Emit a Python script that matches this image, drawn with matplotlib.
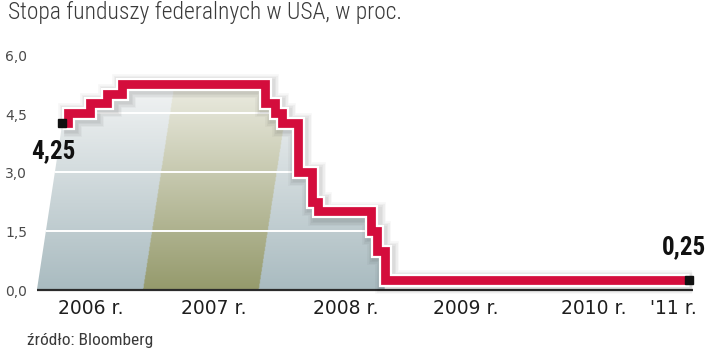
import numpy as np
import matplotlib
matplotlib.use("Agg")
import matplotlib.pyplot as plt
import matplotlib.patheffects as pe
from matplotlib.patches import Polygon
from matplotlib.colors import to_rgba

# Fed funds target rate, step changes (decimal year, percent)
rate_dates = [2006.04, 2006.09, 2006.29, 2006.45, 2006.58, 2007.88, 2007.97,
              2008.04, 2008.18, 2008.31, 2008.36, 2008.85, 2008.90, 2008.97, 2011.74]
rates = [4.25, 4.50, 4.75, 5.00, 5.25, 4.75, 4.50,
         4.25, 3.00, 2.25, 2.00, 1.50, 1.00, 0.25, 0.25]

yticks = [0.0, 1.5, 3.0, 4.5, 6.0]
ytick_labels = ["0,0", "1,5", "3,0", "4,5", "6,0"]
gridlines = [1.5, 3.0, 4.5]

year_labels = ["2006 r.", "2007 r.", "2008 r.", "2009 r.", "2010 r.", "'11 r."]
year_label_pos = [2006.30, 2007.42, 2008.62, 2009.71, 2010.87, 2011.59]

# highlighted year band at the baseline
band = (2006.77, 2007.82)

title = "Stopa funduszy federalnych w USA, w proc."
source = "źródło: Bloomberg"

RED = "#d40d3c"
SKEW = 0.0545  # horizontal lean of the backdrop per percentage point
NARROW = ["Roboto Condensed", "Roboto", "DejaVu Sans"]
PLAIN = ["DejaVu Sans"]

fig = plt.figure(figsize=(7.2, 3.49), dpi=100)
ax = fig.add_axes([0, 0, 1, 1])
ax.set_xlim(2005.473, 2012.018)
ax.set_ylim(-1.50, 7.38)
ax.axis("off")

x = np.array(rate_dates)
y = np.array(rates)

# backdrop polygon under the curve, up to the last cut
drop = int(np.argmax(y <= 0.25))
pts = [(x[0] - SKEW * y[0], 0.0), (x[0], y[0])]
for i in range(1, drop + 1):
    pts.append((x[i], y[i - 1]))
    pts.append((x[i], y[i]))
pts.append((x[drop], 0.0))
backdrop = Polygon(pts, closed=True, facecolor="none", edgecolor="none")
ax.add_patch(backdrop)

# gradient image: grey-blue with an olive band leaning right
x0, x1, v0, v1 = 2005.7, 2009.1, 0.0, 5.4
gx = np.linspace(x0, x1, 600)
gv = np.linspace(v0, v1, 300)
GX, GV = np.meshgrid(gx, gv)
f = (GV / v1)[..., None]
grey_lo, grey_hi = np.array(to_rgba("#a9bbc0")), np.array(to_rgba("#f5f6f6"))
olive_lo, olive_hi = np.array(to_rgba("#959a6c")), np.array(to_rgba("#efefe6"))
img = grey_lo * (1 - f) + grey_hi * f
olive = olive_lo * (1 - f) + olive_hi * f
inside = (GX >= band[0] + SKEW * GV) & (GX <= band[1] + SKEW * GV)
img[inside] = olive[inside]
im = ax.imshow(img, extent=[x0, x1, v0, v1], origin="lower",
               aspect="auto", interpolation="bilinear", zorder=1)
im.set_clip_path(backdrop)

gl = ax.hlines(gridlines, x0, x1, colors="white", linewidth=1.4, zorder=2)
gl.set_clip_path(backdrop)

# baseline
ax.hlines(0, 2005.81, 2011.77, colors="#2b2b2b", linewidth=1.6, zorder=3)

# soft shadow: a few widening translucent strokes
shadow = [pe.SimpleLineShadow(offset=(1.5, -1.5), shadow_color="black",
                              alpha=0.035, linewidth=w)
          for w in (17, 15, 13, 11)]
ax.step(x, y, where="post", color=RED, linewidth=6.3, zorder=5,
        solid_joinstyle="miter", solid_capstyle="butt",
        path_effects=shadow + [pe.Stroke(linewidth=9.5, foreground="white"),
                               pe.Normal()])

# end markers and their values
ax.plot([x[0], x[-1]], [y[0], y[-1]], "s", color="#111111",
        markersize=5.5, zorder=6)
ax.text(x[0] - 0.08, y[0] - 0.72, "4,25", ha="center", va="center",
        fontsize=18, fontweight="bold", family=NARROW,
        color="#111111", zorder=7)
ax.text(x[-1] - 0.05, y[-1] + 0.84, "0,25", ha="center", va="center",
        fontsize=18, fontweight="bold", family=NARROW,
        color="#111111", zorder=7)

# y tick labels
for v, lab in zip(yticks, ytick_labels):
    ax.text(2005.52, v - 0.06, lab, ha="left", va="center",
            fontsize=10, family=PLAIN, color="#4a4a4a")

# year labels
for pos, lab in zip(year_label_pos, year_labels):
    ax.text(pos, -0.47, lab, ha="center", va="center",
            fontsize=13.5, family=PLAIN, color="#1e1e1e")

fig.text(8 / 720, 1 - 12 / 349, title, ha="left", va="center",
         fontsize=16.9, fontweight="light", family=NARROW, color="#3a3a3a")
fig.text(27 / 720, 1 - 341 / 349, source, ha="left", va="center",
         fontsize=12.5, family=NARROW, color="#3a3a3a")

fig.savefig("out.png", dpi=100)
